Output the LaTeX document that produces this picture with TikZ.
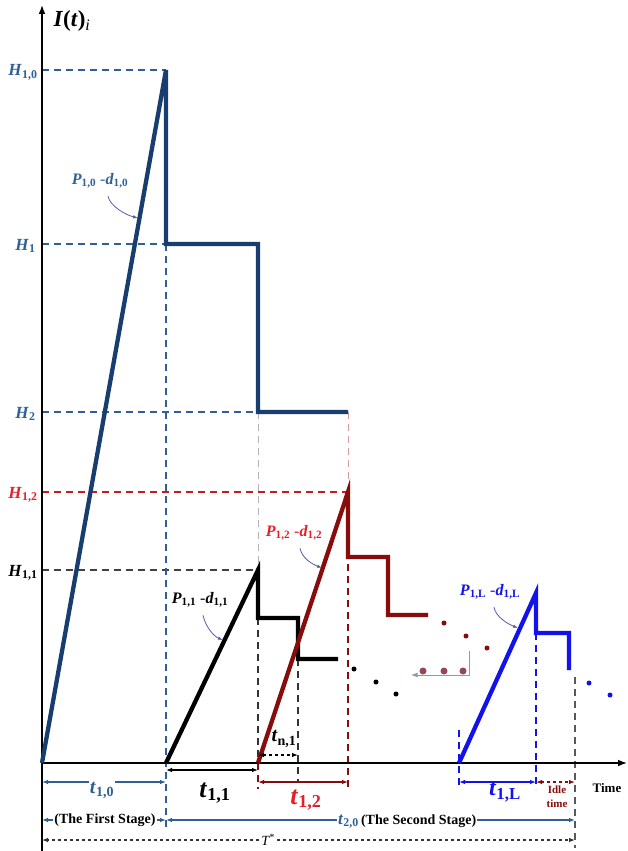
\documentclass[tikz,border=0pt]{standalone}
\usepackage{fontspec}
\setmainfont{Liberation Serif}
\usetikzlibrary{arrows.meta}
\definecolor{navy}{RGB}{24,62,112}
\definecolor{steel}{RGB}{46,96,150}
\definecolor{rust}{RGB}{135,12,12}
\definecolor{crim}{RGB}{226,32,40}
\definecolor{vblue}{RGB}{18,18,235}
\definecolor{plum}{RGB}{150,70,90}
\definecolor{haze}{RGB}{140,150,190}
\newcommand\fsz[1]{\fontsize{#1}{#1}\selectfont}
\newcommand\sym[2]{\textbf{\textit{#1}}\textsubscript{\textbf{#2}}}

\begin{document}
\begin{tikzpicture}[x=1pt,y=-1pt,>=Latex,
  curve/.style={line width=4.3pt,line join=miter},
  guide/.style={line width=1.1pt,dash pattern=on 7pt off 5pt},
  dim/.style={line width=1.1pt,>={Latex[length=6pt,width=4.5pt]}},
  ann/.style={->,line width=.8pt,draw=gray!70!blue,>={Latex[length=5pt,width=3.5pt]}},
  dot/.style={circle,fill,inner sep=0pt,minimum size=5pt},
  hlab/.style={anchor=base east,font=\fsz{17}},
  plab/.style={font=\fsz{16}}]
  \useasboundingbox (0,0) rectangle (627,851);
  \coordinate (O) at (42,763); \coordinate (ybot) at (42,851); \coordinate (ytop) at (42,5); \coordinate (xend) at (627,763);
  \coordinate (b1) at (166,70); \coordinate (b2) at (166,244); \coordinate (b3) at (258,244); \coordinate (b4) at (258,412); \coordinate (b5) at (348,412);
  \coordinate (k0) at (166,763); \coordinate (k1) at (258,570); \coordinate (k2) at (258,618); \coordinate (k3) at (298,618); \coordinate (k4) at (298,659); \coordinate (k5) at (338,659);
  \coordinate (r0) at (258,763); \coordinate (r1) at (348,492); \coordinate (r2) at (348,557); \coordinate (r3) at (388,557); \coordinate (r4) at (388,615); \coordinate (r5) at (428,615);
  \coordinate (l0) at (459,763); \coordinate (l1) at (536,593); \coordinate (l2) at (536,633); \coordinate (l3) at (569,633); \coordinate (l4) at (569,670);
  \coordinate (e) at (575,677);
  \coordinate (rn) at (0,755); \coordinate (ra) at (0,770); \coordinate (rb) at (0,782); \coordinate (rz) at (0,789); \coordinate (rs) at (0,820); \coordinate (rq) at (0,828); \coordinate (rt) at (0,840); \coordinate (rw) at (0,848); \coordinate (lt) at (0,730);

  \node[hlab,text=steel] (h10) at (41,76) {\sym{H}{1,0}};
  \node[hlab,text=steel] (h1) at (39,250) {\sym{H}{1}};
  \node[hlab,text=steel] (h2) at (39,418) {\sym{H}{2}};
  \node[hlab,text=crim] (h12) at (41,498) {\sym{H}{1,2}};
  \node[hlab] (h11) at (41,576) {\sym{H}{1,1}};
  \node[font=\fsz{23}\bfseries] (ylab) at (72,21) {\textit{I}(\textit{t})\textsubscript{\mdseries\itshape i}};

  \draw[guide,steel] (O|-b1) -- (b1); \draw[guide,steel] (O|-b2) -- (b2); \draw[guide,steel] (O|-b4) -- (b4);
  \draw[guide,crim!70!rust] (O|-r1) -- (r1); \draw[guide,black!75] (O|-k1) -- (k1);
  \draw[guide,steel] (b2) -- (k0|-rq);
  \draw[guide,gray!60,line width=.8pt] (b4) -- (k1); \draw[guide,black!80] (k1) -- (r0); \draw[guide,rust] (r0) -- (r0|-rz);
  \draw[guide,rust!40,line width=.8pt] (b5) -- (r1); \draw[guide,rust] (r1) -- (r1|-rz);
  \draw[guide,black!80] (k4) -- (k4|-rb);
  \draw[guide,vblue] (l0|-lt) -- (l0|-rz); \draw[guide,vblue] (l2) -- (l2|-rz);
  \draw[guide,black!65,line width=1.8pt] (e) -- (e|-rw);

  \draw[->,line width=1.3pt] (ybot) -- (ytop); \draw[->,line width=1.3pt] (O) -- (xend);
  \draw[curve,navy] (O) -- (b1) -- (b2) -- (b3) -- (b4) -- (b5);
  \draw[curve] (k0) -- (k1) -- (k2) -- (k3) -- (k4) -- (k5);
  \draw[curve,rust] (r0) -- (r1) -- (r2) -- (r3) -- (r4) -- (r5);
  \draw[curve,vblue] (l0) -- (l1) -- (l2) -- (l3) -- (l4);

  \foreach \p [count=\i] in {(354,669),(376,682),(396,694)} \node[dot,black] (kd\i) at \p {};
  \foreach \p [count=\i] in {(444,623),(466,636),(487,648)} \node[dot,rust] (rd\i) at \p {};
  \foreach \p [count=\i] in {(589,683),(610,695)} \node[dot,vblue] (ld\i) at \p {};
  \coordinate (bk1) at (469,651); \coordinate (bk2) at (469,675); \coordinate (bk3) at (411,675);
  \draw[->,haze,line width=.8pt] (bk1) -- (bk2) -- (bk3);
  \foreach \p [count=\i] in {(423,671),(444,671),(463,671)} \node[dot,plum,minimum size=7pt] (pd\i) at \p {};

  \node[plab,text=steel] (p10) at (100,181) {\sym{P}{1,0} -\sym{d}{1,0}};
  \node[plab] (p11) at (200,600) {\sym{P}{1,1} -\sym{d}{1,1}};
  \node[plab,text=crim] (p12) at (294,533) {\sym{P}{1,2} -\sym{d}{1,2}};
  \node[plab,text=vblue] (p1L) at (490,592) {\sym{P}{1,L} -\sym{d}{1,L}};
  \coordinate (a10) at (138,218); \coordinate (a11) at (223,640); \coordinate (a12) at (322,568); \coordinate (a1L) at (518,628);
  \draw[ann] ([shift={(8pt,-4pt)}]p10.south) .. controls +(2,10) and +(-12,-3) .. (a10);
  \draw[ann] ([shift={(3pt,-4pt)}]p11.south) .. controls +(2,10) and +(-10,-4) .. (a11);
  \draw[ann] ([shift={(6pt,-4pt)}]p12.south) .. controls +(2,10) and +(-10,-4) .. (a12);
  \draw[ann] ([shift={(4pt,-4pt)}]p1L.south) .. controls +(2,10) and +(-10,-4) .. (a1L);

  \draw[dim,<->,steel] (O|-rb) -- (k0|-rb);
  \node[fill=white,inner sep=1pt,text=steel,font=\fsz{20}] (t10) at (102,790) {\sym{t}{1,0}};
  \draw[dim,<->] (k0|-ra) -- (r0|-ra);
  \node[font=\fsz{26}] (t11) at (215,793) {\sym{t}{1,1}};
  \draw[dim,<->,rust] (r0|-rb) -- (r1|-rb);
  \node[text=crim,font=\fsz{26}] (t12) at (306,800) {\sym{t}{1,2}};
  \draw[dim,<->,dashed] (r0|-rn) -- (k4|-rn);
  \node[font=\fsz{20}] (tn1) at (284,739) {\sym{t}{n,1}};
  \draw[dim,<->,vblue] (l0|-rb) -- (l1|-rb);
  \node[text=vblue,font=\fsz{24}] (t1L) at (505,792) {\sym{t}{1,L}};
  \draw[dim,<->,rust,dashed] (l1|-rb) -- (e|-rb);
  \node[text=rust,font=\fontsize{11}{14}\selectfont\bfseries,align=center] (idle) at (557,797) {Idle\\time};
  \node[font=\fsz{13}\bfseries] (time) at (607,788) {Time};

  \node[font=\fsz{14}\bfseries,inner sep=1pt] (st1) at (105,820) {(The First Stage)};
  \draw[dim,->,steel] (st1) -- (O|-rs); \draw[dim,->,steel] (st1) -- (k0|-rs);
  \node[anchor=base west,font=\fsz{14}\bfseries,inner sep=1pt] (st2) at (337,824) {\textcolor{steel}{\fsz{17}\textit{t}\textsubscript{2,0}}\,(The Second Stage)};
  \draw[dim,->,steel] (st2.west|-rs) -- (k0|-rs); \draw[dim,->,steel] (st2.east|-rs) -- (e|-rs);
  \node[font=\fsz{14}\itshape,inner sep=2pt] (Ts) at (268,840) {T\textsuperscript{*}};
  \draw[dim,->,dashed,black!80] (Ts) -- (O|-rt); \draw[dim,->,dashed,black!80] (Ts) -- (e|-rt);
\end{tikzpicture}
\end{document}
